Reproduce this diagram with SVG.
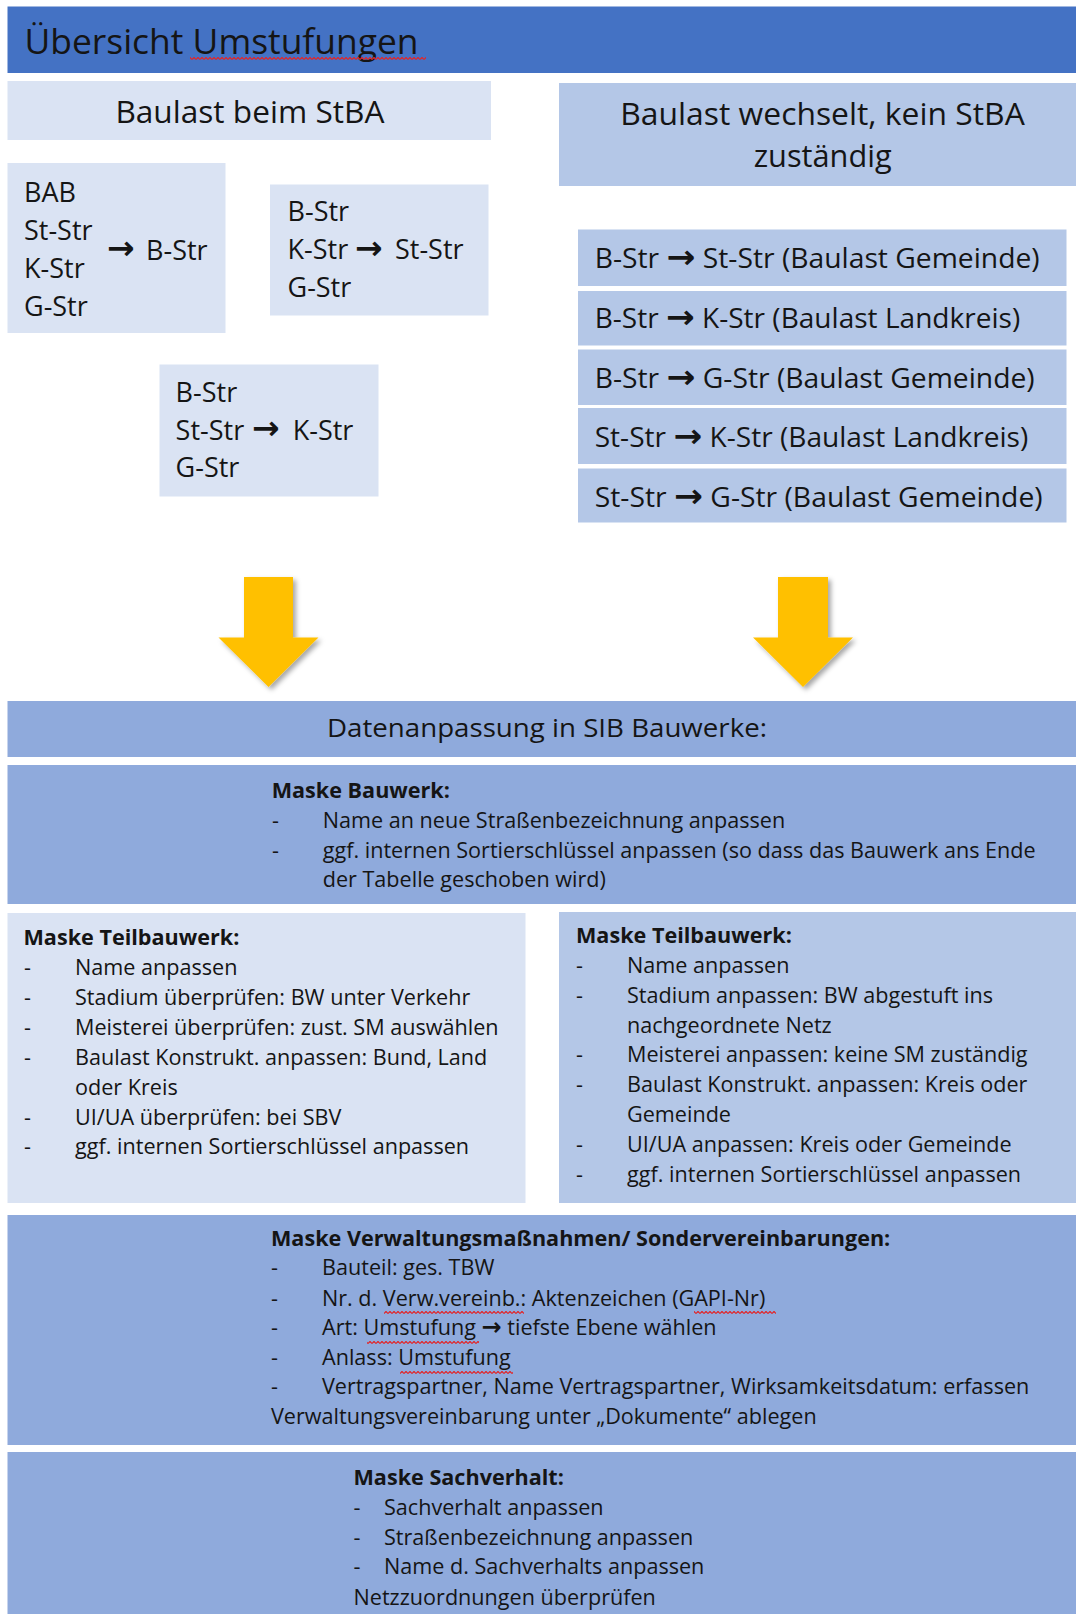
<svg xmlns="http://www.w3.org/2000/svg" width="1076" height="1614" viewBox="0 0 1076 1614">
  <defs>
    <style>
      .t{font-family:"Open Sans","Liberation Sans",sans-serif;fill:#151515}
      .b{font-weight:bold}
      .arr{font-family:"DejaVu Sans",sans-serif;font-weight:bold}
      .a33{font-size:33px}.a24{font-size:24px}
      .s35{font-size:35px}.s31{font-size:31.6px}.s27{font-size:27px}.s26{font-size:26px}.s21{font-size:21.6px}
      .head{fill:#4472C4}.light{fill:#DAE3F3}.mid{fill:#B4C7E7}.dark{fill:#8FAADC}
      .wave{fill:url(#wave)}
    </style>
    <!-- red spell-check underline tile -->
    <pattern id="wave" width="4" height="3" patternUnits="userSpaceOnUse">
      <path d="M0,2.6 L2,0.4 L4,2.6" fill="none" stroke="#E0262A" stroke-width="1.2"/>
    </pattern>
    <filter id="shadow" x="-20%" y="-20%" width="150%" height="150%">
      <feDropShadow dx="3" dy="3" stdDeviation="2.5" flood-color="#000" flood-opacity="0.35"/>
    </filter>
  </defs>

  <rect width="1076" height="1614" fill="#fff"/>

  <!-- header -->
  <g id="title">
    <rect class="head" x="7.5" y="6.5" width="1068.5" height="66.5"/>
    <text class="t s35" x="24.5" y="54" textLength="394" lengthAdjust="spacingAndGlyphs">Übersicht Umstufungen</text>
    <rect class="wave" x="190" y="57" width="236" height="3"/>
  </g>

  <g id="baulast-stba">
    <rect class="light" x="7.5" y="81" width="483.5" height="59"/>
    <text class="t s31" x="115.4" y="122.7" textLength="269" lengthAdjust="spacingAndGlyphs">Baulast beim StBA</text>
  </g>

  <g id="baulast-wechsel">
    <rect class="mid" x="559" y="83" width="517" height="103"/>
    <text class="t s31" x="620.3" y="125" textLength="404.5" lengthAdjust="spacingAndGlyphs">Baulast wechselt, kein StBA</text>
    <text class="t s31" x="753.7" y="166.7" textLength="138" lengthAdjust="spacingAndGlyphs">zuständig</text>
  </g>

  <!-- upgrades to B-Str -->
  <g id="to-bstr">
    <rect class="light" x="7.5" y="163" width="218" height="170"/>
    <text class="t s27" x="24" y="202">BAB</text>
    <text class="t s27" x="24" y="240">St-Str</text>
    <text class="t s27" x="24" y="277.5">K-Str</text>
    <text class="t s27" x="24" y="315.5">G-Str</text>
    <text class="t arr a33" x="107" y="259">→</text>
    <text class="t s27" x="146" y="259.5">B-Str</text>
  </g>

  <g id="to-ststr">
    <rect class="light" x="270" y="184.5" width="218.5" height="131"/>
    <text class="t s27" x="287.5" y="221">B-Str</text>
    <text class="t s27" x="287.5" y="259.3">K-Str</text>
    <text class="t s27" x="287.5" y="297">G-Str</text>
    <text class="t arr a33" x="355" y="259">→</text>
    <text class="t s27" x="395" y="259.3">St-Str</text>
  </g>

  <g id="to-kstr">
    <rect class="light" x="159.5" y="364.5" width="219" height="132"/>
    <text class="t s27" x="175.6" y="401.5">B-Str</text>
    <text class="t s27" x="175.6" y="439.5">St-Str</text>
    <text class="t s27" x="175.6" y="477">G-Str</text>
    <text class="t arr a33" x="252" y="439">→</text>
    <text class="t s27" x="292.7" y="439.5">K-Str</text>
  </g>

  <!-- downgrades, responsibility leaves the StBA -->
  <g id="b-st">
    <rect class="mid" x="578" y="229.5" width="488.5" height="56.5"/>
    <text class="t s27" x="594.7" y="267.5" textLength="445" lengthAdjust="spacingAndGlyphs">B-Str <tspan class="arr a33">→</tspan> St-Str (Baulast Gemeinde)</text>
  </g>
  <g id="b-k">
    <rect class="mid" x="578" y="291" width="488.5" height="54.5"/>
    <text class="t s27" x="594.7" y="327.5" textLength="425.5" lengthAdjust="spacingAndGlyphs">B-Str <tspan class="arr a33">→</tspan> K-Str (Baulast Landkreis)</text>
  </g>
  <g id="b-g">
    <rect class="mid" x="578" y="349.5" width="488.5" height="55.5"/>
    <text class="t s27" x="594.7" y="387.5" textLength="440" lengthAdjust="spacingAndGlyphs">B-Str <tspan class="arr a33">→</tspan> G-Str (Baulast Gemeinde)</text>
  </g>
  <g id="st-k">
    <rect class="mid" x="578" y="408" width="488.5" height="56"/>
    <text class="t s27" x="594.7" y="447" textLength="433.5" lengthAdjust="spacingAndGlyphs">St-Str <tspan class="arr a33">→</tspan> K-Str (Baulast Landkreis)</text>
  </g>
  <g id="st-g">
    <rect class="mid" x="578" y="468.5" width="488.5" height="54"/>
    <text class="t s27" x="594.7" y="506.5" textLength="448" lengthAdjust="spacingAndGlyphs">St-Str <tspan class="arr a33">→</tspan> G-Str (Baulast Gemeinde)</text>
  </g>

  <!-- block arrows into the data section -->
  <g id="connectors" fill="#FFC000" filter="url(#shadow)">
    <polygon points="244,577 293,577 293,637.5 318.5,637.5 268.5,687 218.5,637.5 244,637.5"/>
    <polygon points="778,577 828,577 828,637.5 853,637.5 803,687 753,637.5 778,637.5"/>
  </g>

  <g id="datenanpassung">
    <rect class="dark" x="7.5" y="701" width="1068.5" height="56"/>
    <text class="t s26" x="327" y="737" textLength="440" lengthAdjust="spacingAndGlyphs">Datenanpassung in SIB Bauwerke:</text>
  </g>

  <g id="maske-bauwerk" class="t s21">
    <rect class="dark" x="7.5" y="765" width="1068.5" height="139"/>
    <text class="b" x="271.7" y="798">Maske Bauwerk:</text>
    <text x="272" y="828">-</text>
    <text x="322.7" y="828">Name an neue Straßenbezeichnung anpassen</text>
    <text x="272" y="857.5">-</text>
    <text x="322.7" y="857.5">ggf. internen Sortierschlüssel anpassen (so dass das Bauwerk ans Ende</text>
    <text x="322.7" y="887">der Tabelle geschoben wird)</text>
  </g>

  <g id="teilbauwerk-stba" class="t s21">
    <rect class="light" x="7.5" y="913" width="518" height="290"/>
    <text class="b" x="23.5" y="945">Maske Teilbauwerk:</text>
    <text x="24" y="975">-</text>
    <text x="75" y="975">Name anpassen</text>
    <text x="24" y="1005">-</text>
    <text x="75" y="1005">Stadium überprüfen: BW unter Verkehr</text>
    <text x="24" y="1035">-</text>
    <text x="75" y="1035">Meisterei überprüfen: zust. SM auswählen</text>
    <text x="24" y="1065">-</text>
    <text x="75" y="1065">Baulast Konstrukt. anpassen: Bund, Land</text>
    <text x="75" y="1095">oder Kreis</text>
    <text x="24" y="1124.5">-</text>
    <text x="75" y="1124.5">UI/UA überprüfen: bei SBV</text>
    <text x="24" y="1154">-</text>
    <text x="75" y="1154">ggf. internen Sortierschlüssel anpassen</text>
  </g>

  <g id="teilbauwerk-wechsel" class="t s21">
    <rect class="mid" x="559" y="912" width="517" height="291"/>
    <text class="b" x="576" y="942.7">Maske Teilbauwerk:</text>
    <text x="576" y="972.7">-</text>
    <text x="627" y="972.7">Name anpassen</text>
    <text x="576" y="1002.5">-</text>
    <text x="627" y="1002.5">Stadium anpassen: BW abgestuft ins</text>
    <text x="627" y="1032.5">nachgeordnete Netz</text>
    <text x="576" y="1062.3">-</text>
    <text x="627" y="1062.3">Meisterei anpassen: keine SM zuständig</text>
    <text x="576" y="1092.3">-</text>
    <text x="627" y="1092.3">Baulast Konstrukt. anpassen: Kreis oder</text>
    <text x="627" y="1121.7">Gemeinde</text>
    <text x="576" y="1152">-</text>
    <text x="627" y="1152">UI/UA anpassen: Kreis oder Gemeinde</text>
    <text x="576" y="1182">-</text>
    <text x="627" y="1182">ggf. internen Sortierschlüssel anpassen</text>
  </g>

  <g id="verwaltungsmassnahmen" class="t s21">
    <rect class="dark" x="7.5" y="1215" width="1068.5" height="230"/>
    <text class="b" x="271" y="1246">Maske Verwaltungsmaßnahmen/ Sondervereinbarungen:</text>
    <text x="271" y="1275">-</text>
    <text x="322" y="1275">Bauteil: ges. TBW</text>
    <text x="271" y="1306">-</text>
    <text x="322" y="1306">Nr. d. Verw.vereinb.: Aktenzeichen (GAPI-Nr)</text>
    <text x="271" y="1335">-</text>
    <text x="322" y="1335">Art: Umstufung <tspan class="arr a24">→</tspan> tiefste Ebene wählen</text>
    <text x="271" y="1364.5">-</text>
    <text x="322" y="1364.5">Anlass: Umstufung</text>
    <text x="271" y="1394">-</text>
    <text x="322" y="1394">Vertragspartner, Name Vertragspartner, Wirksamkeitsdatum: erfassen</text>
    <text x="271" y="1424">Verwaltungsvereinbarung unter „Dokumente“ ablegen</text>
    <rect class="wave" x="384" y="1311" width="140" height="3"/>
    <rect class="wave" x="694" y="1311" width="82" height="3"/>
    <rect class="wave" x="367" y="1341" width="112" height="3"/>
    <rect class="wave" x="400" y="1371" width="113" height="3"/>
  </g>

  <g id="sachverhalt" class="t s21">
    <rect class="dark" x="7.5" y="1452" width="1068.5" height="162"/>
    <text class="b" x="353.5" y="1485">Maske Sachverhalt:</text>
    <text x="353.5" y="1515">-</text>
    <text x="384" y="1515">Sachverhalt anpassen</text>
    <text x="353.5" y="1545">-</text>
    <text x="384" y="1545">Straßenbezeichnung anpassen</text>
    <text x="353.5" y="1574">-</text>
    <text x="384" y="1574">Name d. Sachverhalts anpassen</text>
    <text x="353.5" y="1605">Netzzuordnungen überprüfen</text>
  </g>
</svg>
